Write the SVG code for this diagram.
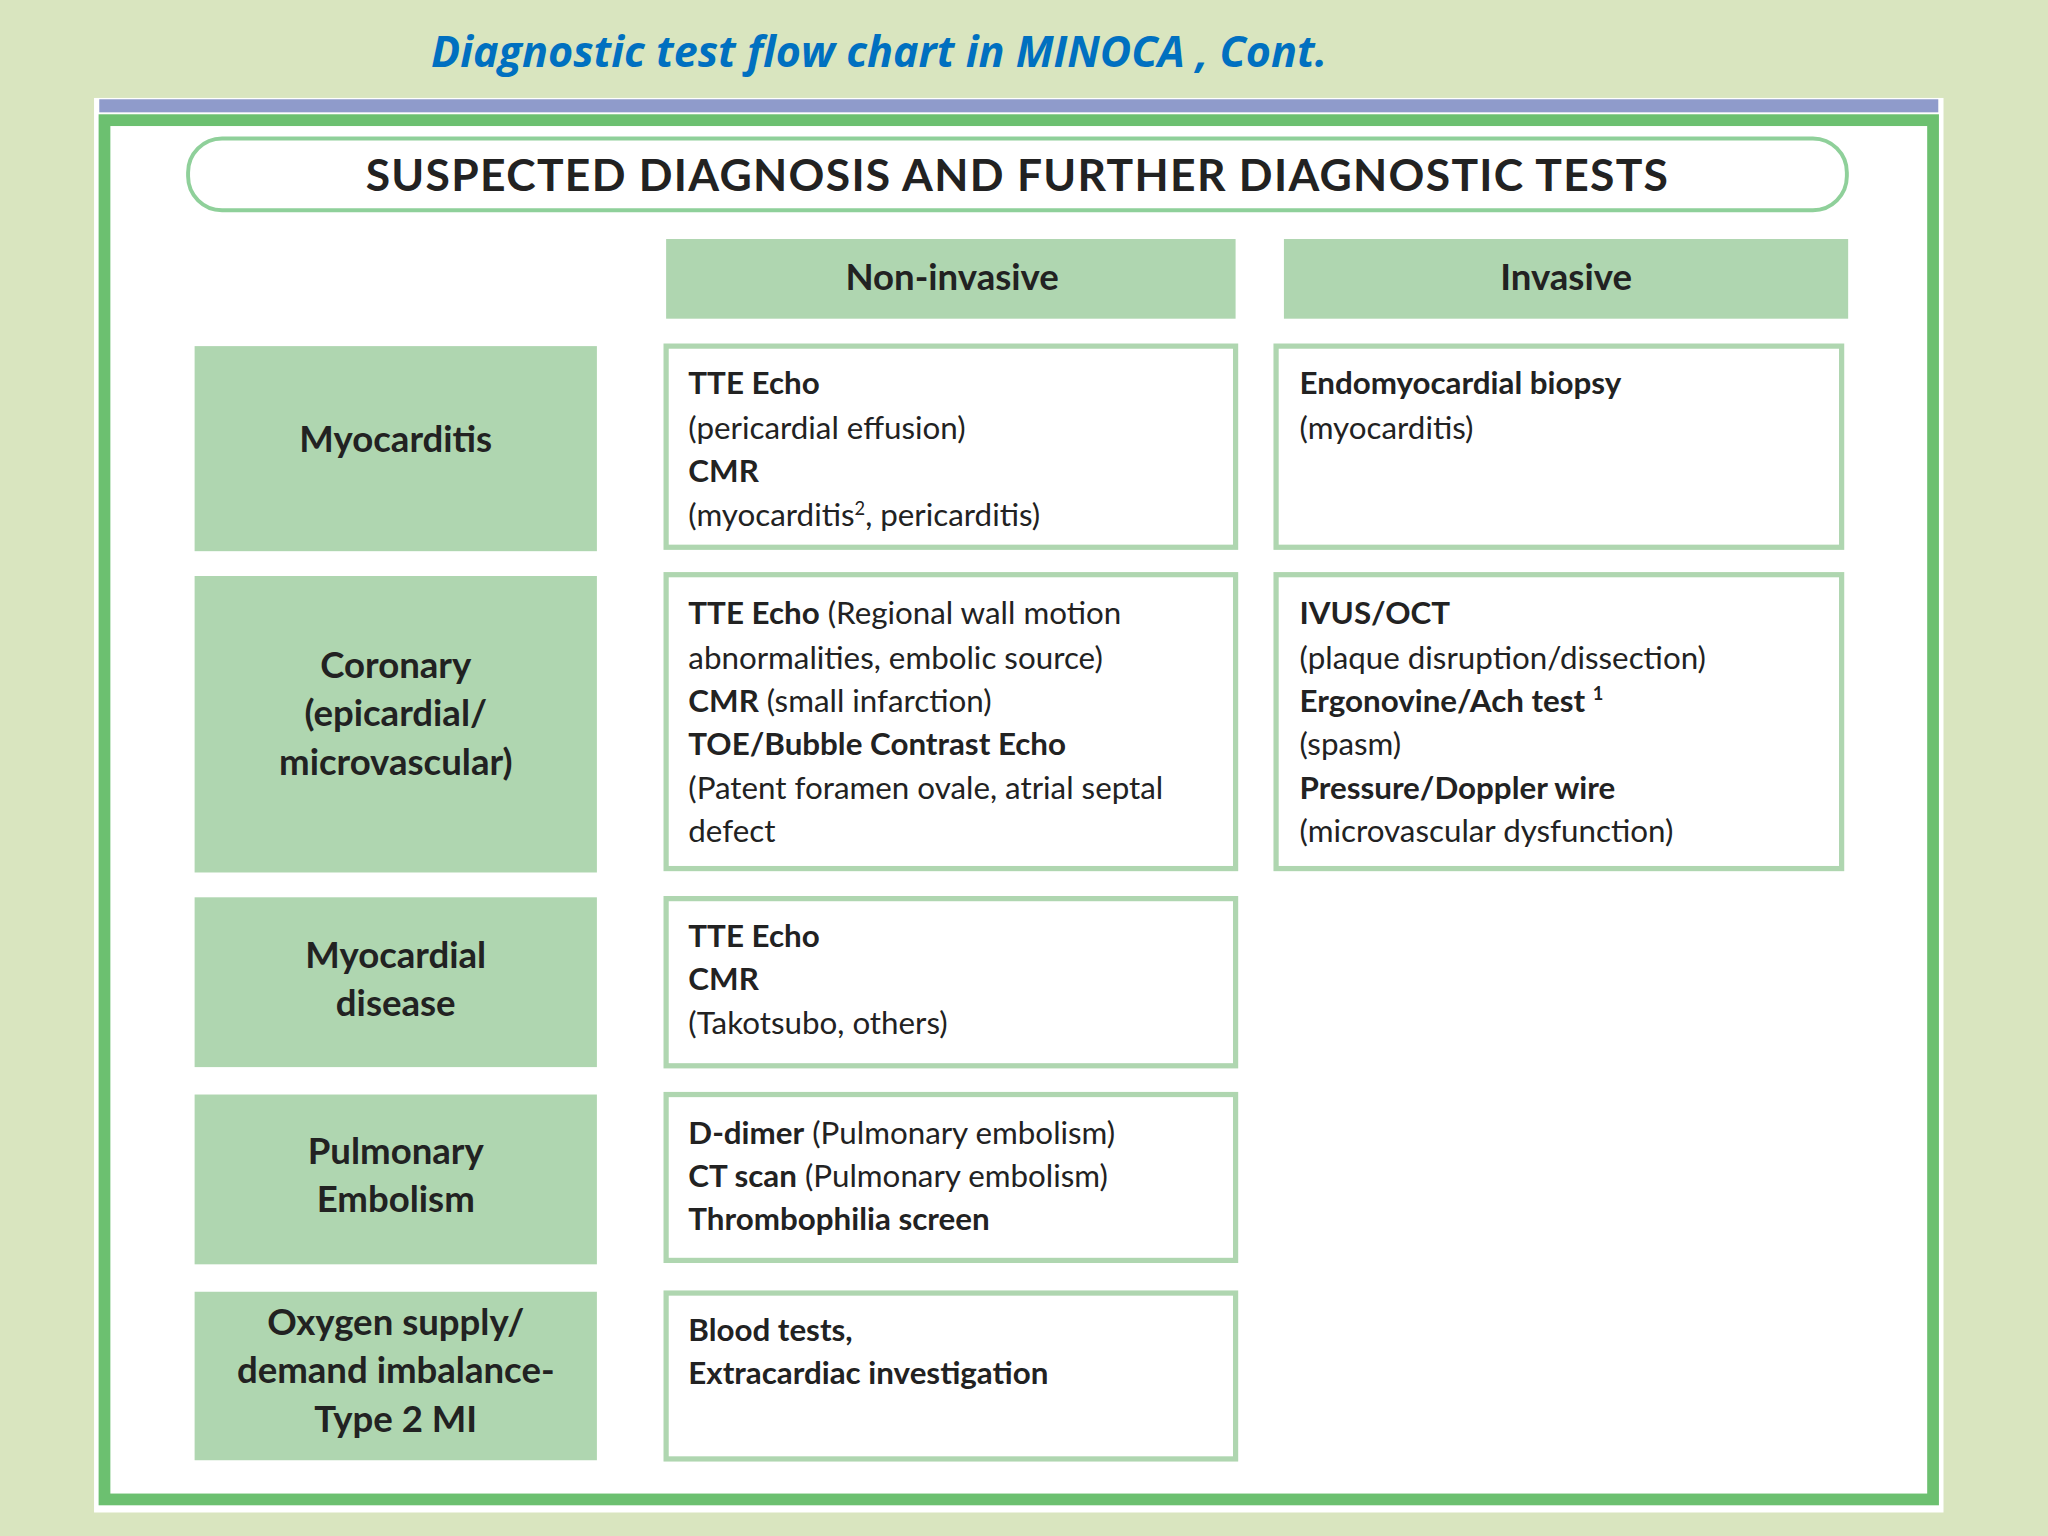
<svg xmlns="http://www.w3.org/2000/svg" width="2048" height="1536" viewBox="0 0 2048 1536">
<style>
.t{font-family:Lato,"Open Sans",sans-serif;fill:#222}
.b{font-weight:bold}
.n{font-size:24px}
.l{font-size:28px;font-weight:bold;text-anchor:middle}
.hd{fill:#afd6b0}
.bx{fill:#fff;stroke:#afd6b0;stroke-width:4}
</style>
<rect width="2048" height="1536" fill="#d9e5bf"/>
<g transform="scale(1.30612)">
<text x="330" y="51" style="font-family:'Open Sans',sans-serif;font-style:italic;font-weight:bold;font-size:33px;fill:#0070c0">Diagnostic test flow chart in MINOCA , Cont.</text>
<rect x="72" y="75" width="1416" height="1083" fill="#fff"/>
<rect x="76" y="76" width="1408" height="10" fill="#8f9bcb"/>
<rect x="80" y="92" width="1400" height="1056" fill="#fff" stroke="#6cc070" stroke-width="9"/>
<g id="title"><rect x="144" y="106" width="1270" height="55" rx="26" fill="#fff" stroke="#8fd09a" stroke-width="3"/>
<text x="779" y="146" class="t b" style="font-size:34px;text-anchor:middle;letter-spacing:1px">SUSPECTED DIAGNOSIS AND FURTHER DIAGNOSTIC TESTS</text></g>
<g id="hdr-noninv"><rect class="hd" x="510" y="183" width="436" height="61"/><text x="729" y="222" class="t l">Non-invasive</text></g>
<g id="hdr-inv"><rect class="hd" x="983" y="183" width="432" height="61"/><text x="1199" y="222" class="t l">Invasive</text></g>
<g id="row1">
<rect class="hd" x="149" y="265" width="308" height="157"/><text x="303" y="346" class="t l">Myocarditis</text>
<rect class="bx" x="510" y="265" width="436" height="154"/>
<text class="t n" x="527"><tspan y="302" class="b">TTE Echo</tspan><tspan x="527" y="336">(pericardial effusion)</tspan><tspan x="527" y="369" class="b">CMR</tspan><tspan x="527" y="403">(myocarditis<tspan dy="-9" font-size="14">2</tspan><tspan dy="9">, pericarditis)</tspan></tspan></text>
<rect class="bx" x="977" y="265" width="433" height="154"/>
<text class="t n" x="995"><tspan y="302" class="b">Endomyocardial biopsy</tspan><tspan x="995" y="336">(myocarditis)</tspan></text>
</g>
<g id="row2">
<rect class="hd" x="149" y="441" width="308" height="227"/>
<text class="t l"><tspan x="303" y="519">Coronary</tspan><tspan x="303" y="556">(epicardial/</tspan><tspan x="303" y="593">microvascular)</tspan></text>
<rect class="bx" x="510" y="440" width="436" height="225"/>
<text class="t n"><tspan x="527" y="478"><tspan class="b">TTE Echo</tspan> (Regional wall motion</tspan><tspan x="527" y="512">abnormalities, embolic source)</tspan><tspan x="527" y="545"><tspan class="b">CMR</tspan> (small infarction)</tspan><tspan x="527" y="578" class="b">TOE/Bubble Contrast Echo</tspan><tspan x="527" y="612">(Patent foramen ovale, atrial septal</tspan><tspan x="527" y="645">defect</tspan></text>
<rect class="bx" x="977" y="440" width="433" height="225"/>
<text class="t n"><tspan x="995" y="478" class="b">IVUS/OCT</tspan><tspan x="995" y="512">(plaque disruption/dissection)</tspan><tspan x="995" y="545" class="b">Ergonovine/Ach test <tspan dy="-9" font-size="14">1</tspan></tspan><tspan x="995" y="578">(spasm)</tspan><tspan x="995" y="612" class="b">Pressure/Doppler wire</tspan><tspan x="995" y="645">(microvascular dysfunction)</tspan></text>
</g>
<g id="row3">
<rect class="hd" x="149" y="687" width="308" height="130"/>
<text class="t l"><tspan x="303" y="741">Myocardial</tspan><tspan x="303" y="778">disease</tspan></text>
<rect class="bx" x="510" y="688" width="436" height="128"/>
<text class="t n"><tspan x="527" y="725" class="b">TTE Echo</tspan><tspan x="527" y="758" class="b">CMR</tspan><tspan x="527" y="792">(Takotsubo, others)</tspan></text>
</g>
<g id="row4">
<rect class="hd" x="149" y="838" width="308" height="130"/>
<text class="t l"><tspan x="303" y="891">Pulmonary</tspan><tspan x="303" y="928">Embolism</tspan></text>
<rect class="bx" x="510" y="838" width="436" height="127"/>
<text class="t n"><tspan x="527" y="876"><tspan class="b">D-dimer</tspan> (Pulmonary embolism)</tspan><tspan x="527" y="909"><tspan class="b">CT scan</tspan> (Pulmonary embolism)</tspan><tspan x="527" y="942" class="b">Thrombophilia screen</tspan></text>
</g>
<g id="row5">
<rect class="hd" x="149" y="989" width="308" height="129"/>
<text class="t l"><tspan x="303" y="1022">Oxygen supply/</tspan><tspan x="303" y="1059">demand imbalance-</tspan><tspan x="303" y="1096">Type 2 MI</tspan></text>
<rect class="bx" x="510" y="990" width="436" height="127"/>
<text class="t n b"><tspan x="527" y="1027">Blood tests,</tspan><tspan x="527" y="1060">Extracardiac investigation</tspan></text>
</g>
<g id="connectors"/>
</g>
</svg>
